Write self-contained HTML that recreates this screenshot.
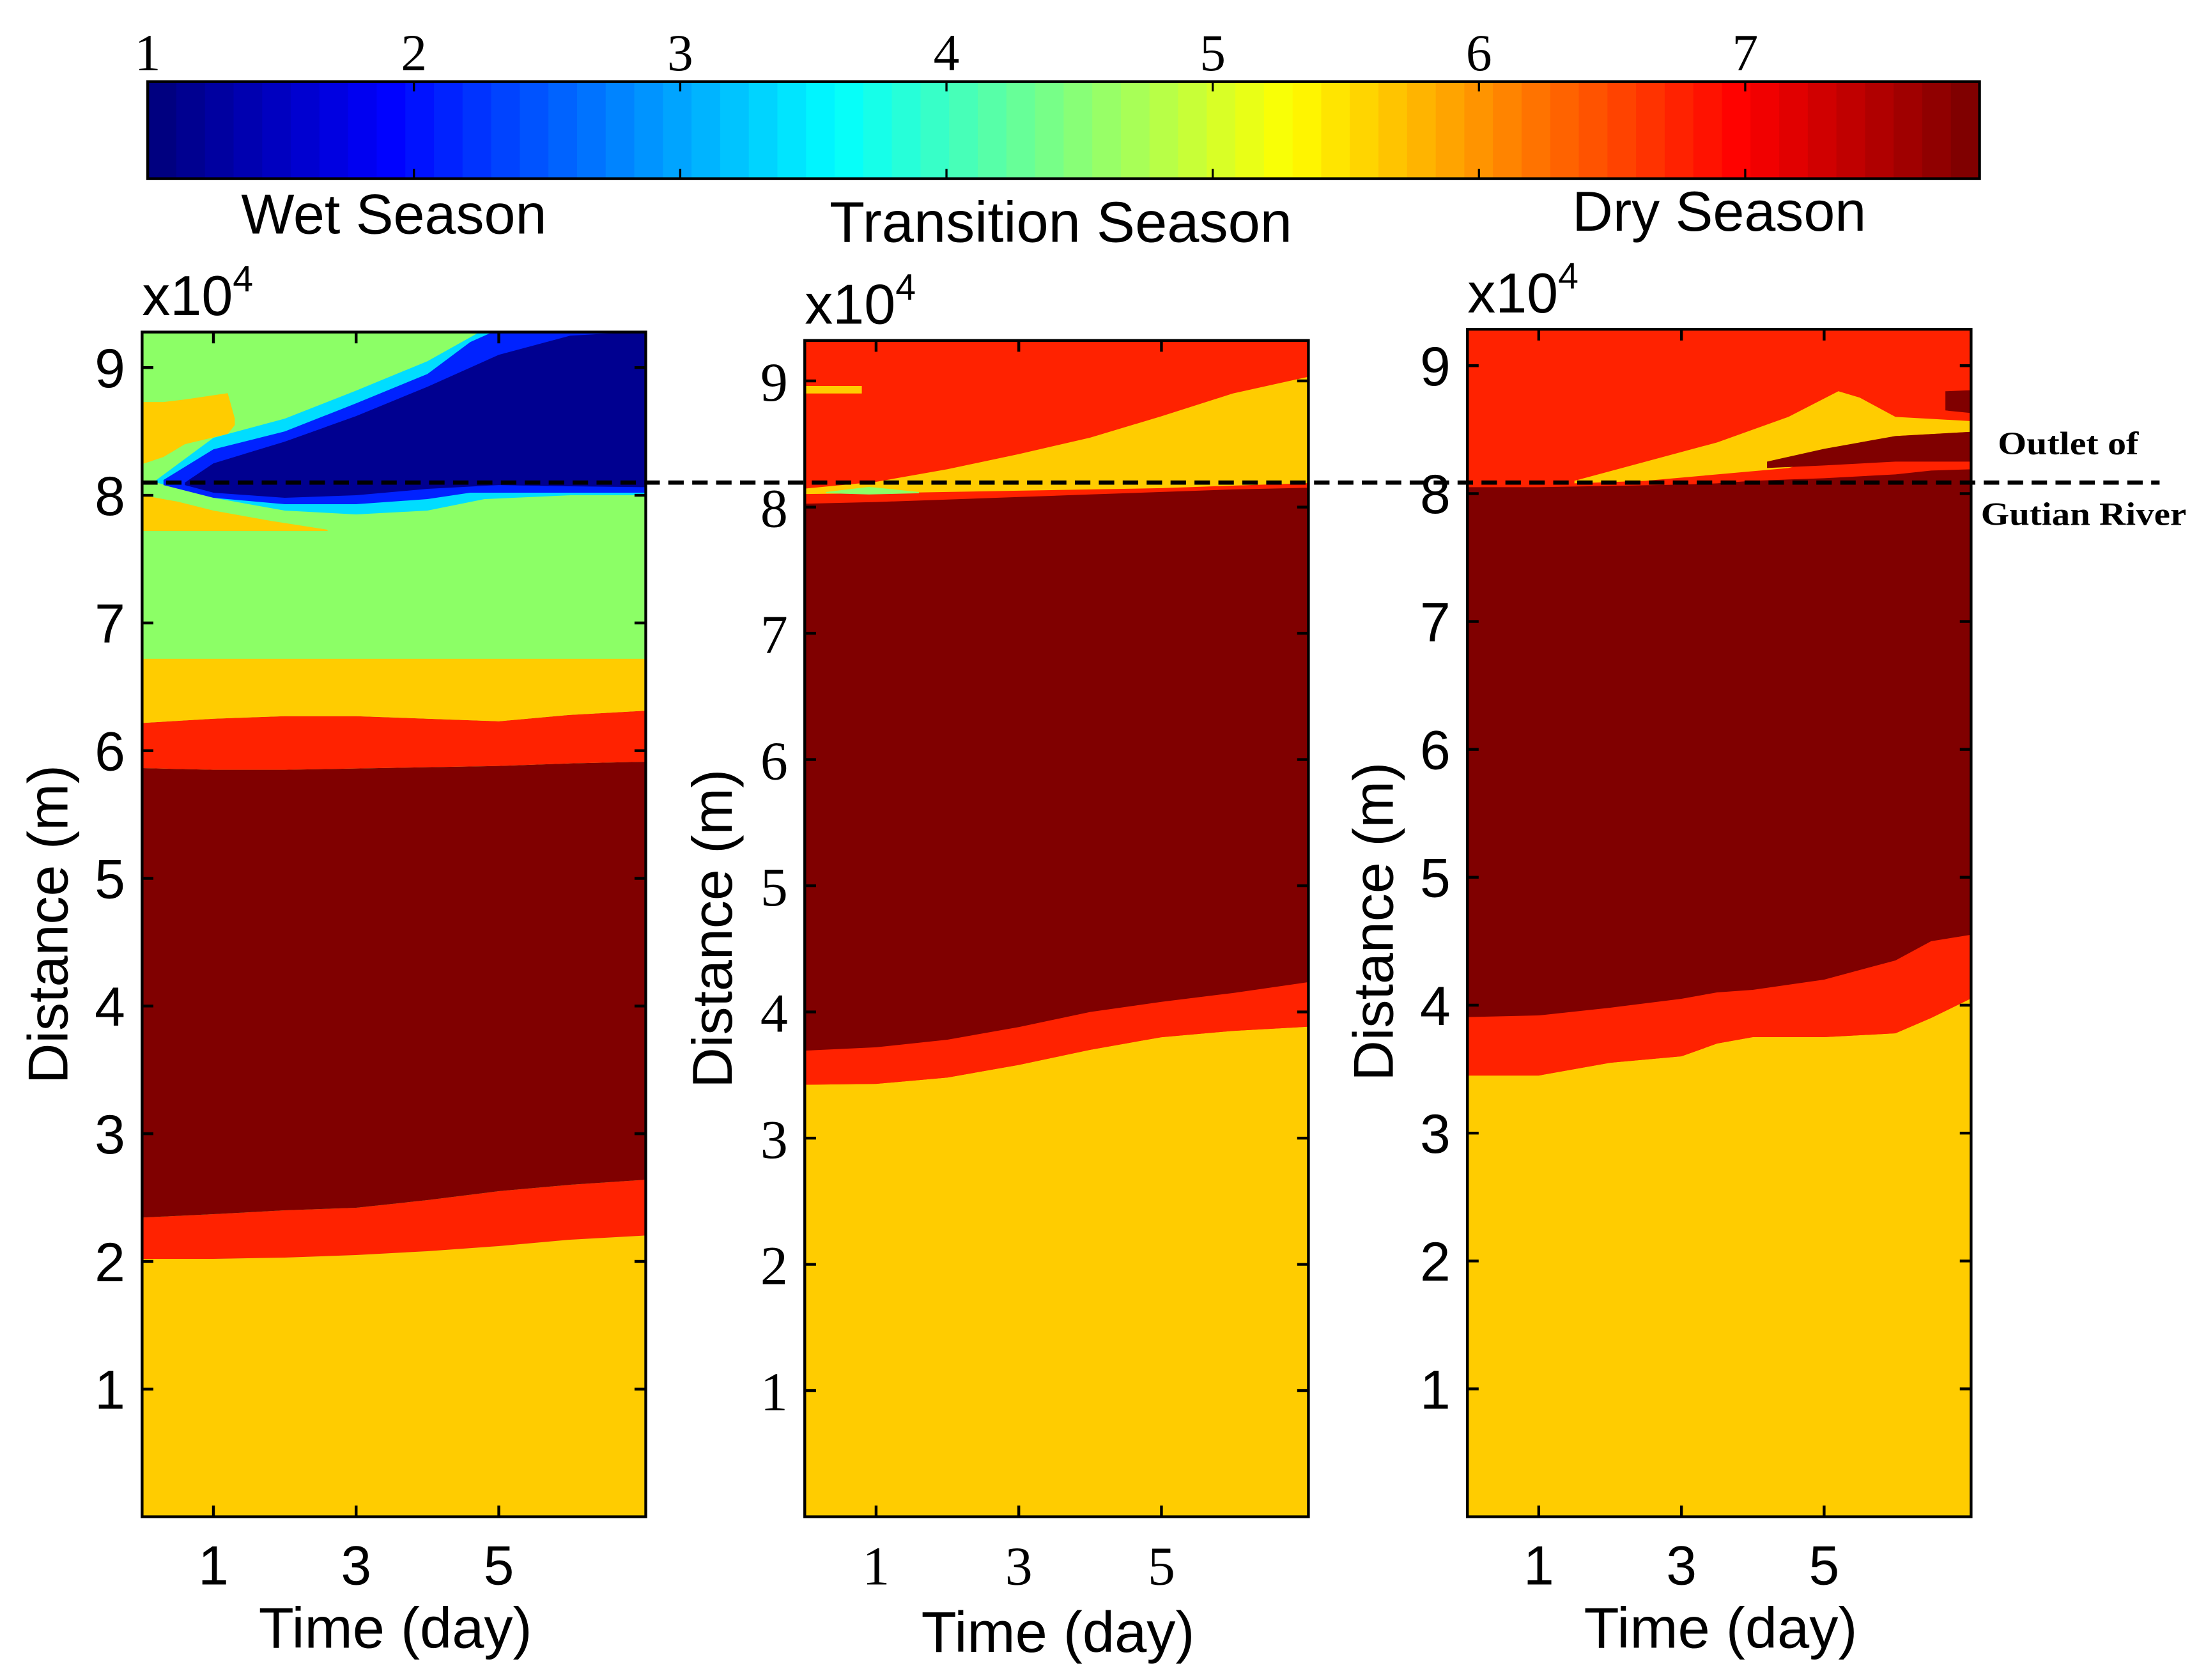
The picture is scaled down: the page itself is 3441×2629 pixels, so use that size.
<!DOCTYPE html>
<html><head><meta charset="utf-8"><style>
html,body{margin:0;padding:0;background:#fff;overflow:hidden}
svg{display:block}
</style></head><body>
<svg id="fig" xmlns="http://www.w3.org/2000/svg" width="3441" height="2629" viewBox="0 0 1563 1194" preserveAspectRatio="none">
<g id="cbar"></g>
<text x="280" y="166" font-family="Liberation Sans, sans-serif" font-size="40" text-anchor="middle">Wet Season</text>
<text x="754" y="172" font-family="Liberation Sans, sans-serif" font-size="41" text-anchor="middle">Transition Season</text>
<text x="1222" y="164" font-family="Liberation Sans, sans-serif" font-size="40" text-anchor="middle">Dry Season</text>
<g id="panels"></g>
<line x1="101" y1="343" x2="1535" y2="343" stroke="#000" stroke-width="3" stroke-dasharray="11,6"/>
<text x="1420" y="323" textLength="100" lengthAdjust="spacingAndGlyphs" font-family="Liberation Serif, serif" font-weight="bold" font-size="23">Outlet of</text>
<text x="1408" y="373" textLength="146" lengthAdjust="spacingAndGlyphs" font-family="Liberation Serif, serif" font-weight="bold" font-size="23">Gutian River</text>
</svg>
<script>
const NS='http://www.w3.org/2000/svg';
const svg=document.getElementById('fig');
// colorbar data
const cbarTicks=[1,2,3,4,5,6,7];
const cbarMin=1, cbarMax=7.88, cbarBands=64;
// Panel data (distance in 1e4 m, time in days)
const T8=[0,1,2,3,4,5,6,7];
const wetYellowTop=[2.02,2.02,2.03,2.05,2.08,2.12,2.17,2.22];
const wetRedTop=[2.33,2.37,2.4,2.42,2.48,2.55,2.6,2.66];
const wetDarkTop=[5.87,5.85,5.85,5.86,5.87,5.88,5.9,5.92];
const wetRed2Top=[6.2,6.25,6.27,6.27,6.25,6.23,6.28,6.33];
const wetYellow2Top=[6.72,6.72,6.72,6.72,6.72,6.72,6.72,6.72];
const wetYPatchT=[0,0.5,1,1.8,2.6];
const wetYPatchLo=[7.72,7.72,7.72,7.72,7.72];
const wetYPatchHi=[8.05,7.95,7.88,7.8,7.73];
const wetYUpT=[0,0.3,0.6,1.2,1.3];
const wetYUpLo=[8.15,8.3,8.4,8.48,8.55];
const wetYUpHi=[8.73,8.73,8.75,8.8,8.6];
const wetCyanT=[0.2,1,2,3,4,4.8,6,7];
const wetCyanHi=[8.12,8.45,8.6,8.82,9.05,9.3,9.3,9.3];
const wetCyanLo=[8.1,7.98,7.88,7.85,7.88,7.97,8.0,8.0];
const wetBlueT=[0.3,1,2,3,4,4.6,5,7];
const wetBlueHi=[8.12,8.36,8.5,8.72,8.95,9.2,9.3,9.3];
const wetBlueLo=[8.08,7.98,7.93,7.93,7.97,8.02,8.02,8.02];
const wetDBlueT=[0.6,1,2,3,4,5,6,7];
const wetDBlueHi=[8.1,8.25,8.42,8.62,8.85,9.1,9.25,9.3];
const wetDBlueLo=[8.08,8.02,7.98,8.0,8.05,8.08,8.07,8.06];

const trYellowTop=[3.42,3.43,3.48,3.58,3.7,3.8,3.85,3.9];
const trRedTop=[3.68,3.72,3.78,3.88,4.0,4.08,4.15,4.28];
const trDarkTop=[8.02,8.04,8.06,8.08,8.1,8.12,8.14,8.16];
const trWedgeLo=[8.1,8.11,8.12,8.13,8.14,8.15,8.17,8.2];
const trWedgeHi=[8.12,8.2,8.3,8.42,8.55,8.72,8.9,9.1];
const trStripT=[0,0.8];
const trStripLo=[8.9,8.9];
const trStripHi=[8.96,8.96];
const trGreenT=[0.3,0.9,1.6];
const trGreenLo=[8.11,8.1,8.11];
const trGreenHi=[8.12,8.16,8.12];

const T10=[0,1,2,3,3.5,4,5,6,6.5,7];
const dryYellowTop=[3.45,3.45,3.55,3.6,3.7,3.75,3.75,3.78,3.9,4.2];
const dryRedTop=[3.9,3.92,3.98,4.05,4.1,4.12,4.2,4.35,4.5,4.6];
const dryDarkTop=[8.05,8.05,8.06,8.07,8.08,8.1,8.12,8.15,8.18,8.2];
const dryWedgeT=[1.5,2.5,3.5,4.5,5.2,5.5,6,7];
const dryWedgeLo=[8.08,8.1,8.15,8.2,8.3,8.4,8.45,8.5];
const dryWedgeHi=[8.1,8.25,8.4,8.6,8.8,8.75,8.6,8.55];
const dryPatchT=[4.2,5,6,7];
const dryPatchLo=[8.2,8.22,8.25,8.25];
const dryPatchHi=[8.25,8.35,8.45,8.5];
const dryPatch2T=[6.7,7];
const dryPatch2Lo=[8.65,8.6];
const dryPatch2Hi=[8.8,8.82];

const C={yellow:'#FFCC00',red:'#FF2200',dark:'#800000',green:'#8CFF66',cyan:'#00DDFF',blue:'#0022FF',dblue:'#000090'};

function el(tag,attrs,parent){const e=document.createElementNS(NS,tag);for(const k in attrs)e.setAttribute(k,attrs[k]);(parent||svg).appendChild(e);return e;}

function jet(v){
  const r=Math.min(Math.max(Math.min(4*v-1.5,-4*v+4.5),0),1);
  const g=Math.min(Math.max(Math.min(4*v-0.5,-4*v+3.5),0),1);
  const b=Math.min(Math.max(Math.min(4*v+0.5,-4*v+2.5),0),1);
  return `rgb(${Math.round(r*255)},${Math.round(g*255)},${Math.round(b*255)})`;
}
(function(){
  const g=document.getElementById('cbar');
  const x0=105,x1=1407,y0=58,y1=127;
  const cx=v=>x0+(v-cbarMin)/(cbarMax-cbarMin)*(x1-x0);
  const w=(x1-x0)/cbarBands;
  for(let i=0;i<cbarBands;i++){
    const r=el('rect',{x:x0+i*w,y:y0,width:w+0.6,height:y1-y0,fill:jet(i/(cbarBands-1))},g);
    
    
  }
  el('rect',{x:x0,y:y0,width:x1-x0,height:y1-y0,fill:'none',stroke:'#000','stroke-width':2},g);
  cbarTicks.forEach(v=>{
    const x=cx(v);
    el('line',{x1:x,y1:y0,x2:x,y2:y0+7,stroke:'#000','stroke-width':1.5},g);
    el('line',{x1:x,y1:y1,x2:x,y2:y1-7,stroke:'#000','stroke-width':1.5},g);
    const t=el('text',{x:x,y:50,'font-family':'Liberation Serif, serif','font-size':37,'text-anchor':'middle'},g);
    t.textContent=v;
    
    
  });
})();

function panel(cfg){
  const g=el('g',{},document.getElementById('panels'));
  
  
  const X=t=>cfg.x0+(t)*(cfg.x1-cfg.x0)/7.06;
  const Y=d=>cfg.yb-(d)*cfg.ppu;
  const dTop=(cfg.yb-cfg.yt)/cfg.ppu;
  const clipId='clip'+cfg.name;
  const cp=el('clipPath',{id:clipId},g);
  el('rect',{x:cfg.x0,y:cfg.yt,width:cfg.x1-cfg.x0,height:cfg.yb-cfg.yt},cp);
  const body=el('g',{'clip-path':`url(#${clipId})`},g);
  el('rect',{x:cfg.x0,y:cfg.yt,width:cfg.x1-cfg.x0,height:cfg.yb-cfg.yt,fill:cfg.bg},body);
  cfg.layers.forEach(L=>{
    const ext=t=>(t<=0?-0.5:(t>=7?7.6:t));
    let pts=L.t.map((t,i)=>`${X(ext(t))},${Y(Math.min(L.hi[i],dTop+0.3))}`);
    for(let i=L.t.length-1;i>=0;i--)pts.push(`${X(ext(L.t[i]))},${Y(L.lo[i])}`);
    const p=el('polygon',{points:pts.join(' '),fill:L.c},body);
    
    
  });
  el('rect',{x:cfg.x0,y:cfg.yt,width:cfg.x1-cfg.x0,height:cfg.yb-cfg.yt,fill:'none',stroke:'#000','stroke-width':2},g);
  [1,2,3,4,5,6,7,8,9].forEach(v=>{
    const y=Y(v);
    el('line',{x1:cfg.x0,y1:y,x2:cfg.x0+8,y2:y,stroke:'#000','stroke-width':2},g);
    el('line',{x1:cfg.x1,y1:y,x2:cfg.x1-8,y2:y,stroke:'#000','stroke-width':2},g);
    const t=el('text',{x:cfg.x0-12,y:y+14,'font-family':cfg.font,'font-size':cfg.fs,'text-anchor':'end'},g);
    t.textContent=v;
    
    
  });
  [1,3,5].forEach(v=>{
    const x=X(v);
    el('line',{x1:x,y1:cfg.yb,x2:x,y2:cfg.yb-8,stroke:'#000','stroke-width':2},g);
    el('line',{x1:x,y1:cfg.yt,x2:x,y2:cfg.yt+8,stroke:'#000','stroke-width':2},g);
    const t=el('text',{x:x,y:cfg.yb+48,'font-family':cfg.font,'font-size':cfg.fs,'text-anchor':'middle'},g);
    t.textContent=v;
    
    
  });
  const xt=el('text',{x:(cfg.x0+cfg.x1)/2+1,y:cfg.xtY,'font-family':'Liberation Sans, sans-serif','font-size':41,'text-anchor':'middle'},g);
  xt.textContent='Time (day)';
  
  
  const yt=el('text',{x:0,y:0,'font-family':'Liberation Sans, sans-serif','font-size':40,'text-anchor':'middle',transform:`translate(${cfg.ytX},${cfg.ytY}) rotate(-90)`},g);
  yt.textContent='Distance (m)';
  
  
  const ex=el('text',{x:cfg.x0,y:cfg.yt-12,'font-family':'Liberation Sans, sans-serif','font-size':40},g);
  ex.innerHTML='x10<tspan dy="-17" font-size="26">4</tspan>';
  
  
}
const zeros8=T8.map(()=>0), zeros10=T10.map(()=>0);
panel({name:'wet-season-panel',x0:101,x1:459,yt:236,yb:1078,ppu:90.75,bg:C.green,font:'Liberation Sans, sans-serif',fs:39,xtY:1171,ytX:48,ytY:657,
 layers:[
  {n:'wet-yellow-low',c:C.yellow,t:T8,lo:zeros8,hi:wetYellowTop},
  {n:'wet-red-low',c:C.red,t:T8,lo:wetYellowTop,hi:wetRedTop},
  {n:'wet-darkred',c:C.dark,t:T8,lo:wetRedTop,hi:wetDarkTop},
  {n:'wet-red-mid',c:C.red,t:T8,lo:wetDarkTop,hi:wetRed2Top},
  {n:'wet-yellow-mid',c:C.yellow,t:T8,lo:wetRed2Top,hi:wetYellow2Top},
  {n:'wet-yellow-patch',c:C.yellow,t:wetYPatchT,lo:wetYPatchLo,hi:wetYPatchHi},
  {n:'wet-yellow-upper',c:C.yellow,t:wetYUpT,lo:wetYUpLo,hi:wetYUpHi},
  {n:'wet-cyan',c:C.cyan,t:wetCyanT,lo:wetCyanLo,hi:wetCyanHi},
  {n:'wet-blue',c:C.blue,t:wetBlueT,lo:wetBlueLo,hi:wetBlueHi},
  {n:'wet-darkblue',c:C.dblue,t:wetDBlueT,lo:wetDBlueLo,hi:wetDBlueHi}
 ]});
panel({name:'transition-season-panel',x0:572,x1:930,yt:242,yb:1078,ppu:89.7,bg:C.red,font:'Liberation Serif, serif',fs:39,xtY:1174,ytX:520,ytY:660,
 layers:[
  {n:'tr-yellow-low',c:C.yellow,t:T8,lo:zeros8,hi:trYellowTop},
  {n:'tr-red-low',c:C.red,t:T8,lo:trYellowTop,hi:trRedTop},
  {n:'tr-darkred',c:C.dark,t:T8,lo:trRedTop,hi:trDarkTop},
  {n:'tr-yellow-wedge',c:C.yellow,t:T8,lo:trWedgeLo,hi:trWedgeHi},
  {n:'tr-yellow-strip',c:C.yellow,t:trStripT,lo:trStripLo,hi:trStripHi},
  {n:'tr-green-patch',c:C.green,t:trGreenT,lo:trGreenLo,hi:trGreenHi}
 ]});
panel({name:'dry-season-panel',x0:1043,x1:1401,yt:234,yb:1078,ppu:90.9,bg:C.red,font:'Liberation Sans, sans-serif',fs:39,xtY:1171,ytX:990,ytY:655,
 layers:[
  {n:'dry-yellow-low',c:C.yellow,t:T10,lo:zeros10,hi:dryYellowTop},
  {n:'dry-red-low',c:C.red,t:T10,lo:dryYellowTop,hi:dryRedTop},
  {n:'dry-darkred',c:C.dark,t:T10,lo:dryRedTop,hi:dryDarkTop},
  {n:'dry-yellow-wedge',c:C.yellow,t:dryWedgeT,lo:dryWedgeLo,hi:dryWedgeHi},
  {n:'dry-darkred-patch',c:C.dark,t:dryPatchT,lo:dryPatchLo,hi:dryPatchHi},
  {n:'dry-darkred-patch2',c:C.dark,t:dryPatch2T,lo:dryPatch2Lo,hi:dryPatch2Hi}
 ]});
</script>
</body></html>
